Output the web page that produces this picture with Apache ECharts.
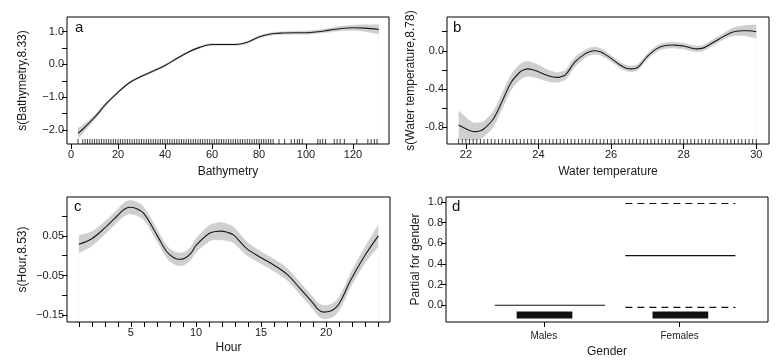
<!DOCTYPE html>
<html>
<head>
<meta charset="utf-8">
<script src="https://cdn.jsdelivr.net/npm/echarts@6/dist/echarts.min.js"></script>
<style>html,body{margin:0;padding:0;background:#fff;}#chart{width:780px;height:364px;}</style>
</head>
<body>
<div id="chart"></div>
<script>
// ---------- Panel a: Bathymetry ----------
const bathyX   = [3, 5, 10, 15, 20, 25, 30, 35, 40, 45, 50, 55, 60, 65, 70, 75, 80, 85, 90, 95, 100, 105, 110, 115, 120, 125, 131];
const bathyFit = [-2.10, -1.98, -1.62, -1.20, -0.85, -0.55, -0.36, -0.20, -0.03, 0.18, 0.38, 0.53, 0.61, 0.61, 0.61, 0.68, 0.84, 0.93, 0.96, 0.97, 0.97, 1.00, 1.05, 1.10, 1.12, 1.11, 1.07];
const bathySe  = [0.15, 0.12, 0.07, 0.05, 0.04, 0.03, 0.03, 0.03, 0.03, 0.03, 0.03, 0.03, 0.03, 0.03, 0.03, 0.03, 0.035, 0.04, 0.04, 0.045, 0.05, 0.05, 0.06, 0.07, 0.08, 0.10, 0.14];
const bathyRug = [3, 5, 6, 7, 8, 9, 10, 11, 12, 13, 14, 15, 16, 17, 18, 19, 20, 21, 22, 23, 24, 25, 26, 27, 28, 29, 30,
  31, 32, 33, 34, 35, 36, 37, 38, 39, 40, 41, 42, 43, 44, 45, 46, 47, 48, 49, 50, 51, 52, 53, 54, 55, 56, 57, 58, 59, 60,
  61, 62, 63, 64, 65, 66, 67, 68, 69, 70, 71, 72, 73, 74, 75, 76, 77, 78, 79, 80, 81, 82, 83, 84, 85, 86,
  88.5, 90.9, 93.7, 95.1, 96.3, 97.2, 98.4, 105, 106, 107.1, 108.3, 112, 113.2, 114.5, 116.3, 121.6, 126.3, 127.7, 129.1, 130.2];
const bathyXTicks = [0, 20, 40, 60, 80, 100, 120];
const bathyYTicks = [-2.0, -1.5, -1.0, -0.5, 0.0, 0.5, 1.0];
const bathyYLabels = [-2.0, -1.0, 0.0, 1.0];

// ---------- Panel b: Water temperature ----------
const tempX   = [21.8, 22.0, 22.12, 22.25, 22.4, 22.5, 22.75, 23.0, 23.25, 23.5, 23.6, 23.7, 23.85, 24.0, 24.25, 24.4, 24.5, 24.6, 24.75, 25.0, 25.25, 25.4, 25.55, 25.7, 25.8, 26.0, 26.25, 26.4, 26.55, 26.7, 26.8, 27.0, 27.25, 27.5, 27.7, 27.85, 28.0, 28.2, 28.35, 28.5, 28.6, 29.0, 29.3, 29.45, 29.6, 29.8, 30.0];
const tempFit = [-0.78, -0.82, -0.84, -0.85, -0.84, -0.82, -0.72, -0.53, -0.33, -0.22, -0.20, -0.19, -0.20, -0.22, -0.26, -0.275, -0.28, -0.275, -0.25, -0.12, -0.04, -0.01, 0.00, -0.01, -0.03, -0.08, -0.15, -0.18, -0.19, -0.18, -0.15, -0.06, 0.02, 0.055, 0.06, 0.055, 0.05, 0.03, 0.02, 0.025, 0.04, 0.13, 0.19, 0.205, 0.21, 0.21, 0.20];
const tempSe  = [0.15, 0.12, 0.10, 0.09, 0.085, 0.08, 0.08, 0.08, 0.08, 0.08, 0.08, 0.08, 0.075, 0.07, 0.06, 0.055, 0.05, 0.05, 0.05, 0.05, 0.04, 0.04, 0.04, 0.035, 0.035,
  0.03, 0.03, 0.03, 0.03, 0.03, 0.03, 0.03, 0.03, 0.03, 0.03, 0.03, 0.03, 0.03, 0.03, 0.03, 0.03, 0.03, 0.04, 0.045, 0.05, 0.06, 0.07];
const tempRug = [21.8, 21.9, 22.0, 22.1, 22.2, 22.3, 22.4, 22.5, 22.6, 22.7, 22.8, 22.9, 23.0, 23.1, 23.2, 23.3, 23.4, 23.5, 23.6, 23.7, 23.8, 23.9,
  24.0, 24.1, 24.2, 24.3, 24.4, 24.5, 24.6, 24.7, 24.8, 24.9, 25.0, 25.1, 25.2, 25.3, 25.4, 25.5, 25.6, 25.7, 25.8, 25.9,
  26.0, 26.1, 26.2, 26.3, 26.4, 26.5, 26.6, 26.7, 26.8, 26.9, 27.0, 27.1, 27.2, 27.3, 27.4, 27.5, 27.6, 27.7, 27.8, 27.9,
  28.0, 28.1, 28.2, 28.3, 28.4, 28.5, 28.6, 28.7, 28.8, 28.9, 29.0, 29.1, 29.2, 29.3, 29.4, 29.5, 29.6, 29.7, 29.8, 29.9, 30.0];
const tempXTicks = [22, 24, 26, 28, 30];
const tempYTicks = [-0.8, -0.6, -0.4, -0.2, 0.0, 0.2];
const tempYLabels = [-0.8, -0.4, 0.0];

// ---------- Panel c: Hour ----------
const hourX   = [1, 2, 3, 4, 4.5, 4.9, 5.4, 6, 7, 7.75, 8.3, 8.7, 9.1, 9.6, 10, 11, 11.5, 11.9, 12.4, 12.9, 13.9, 15, 16, 17, 18, 19, 19.4, 19.8, 20.3, 20.8, 21.3, 21.8, 22.9, 24];
const hourFit = [0.029, 0.043, 0.070, 0.102, 0.117, 0.122, 0.119, 0.106, 0.052, 0.010, -0.005, -0.009, -0.007, 0.006, 0.026, 0.056, 0.061, 0.062, 0.059, 0.052, 0.018, -0.005, -0.024, -0.047, -0.083, -0.120, -0.136, -0.142, -0.140, -0.129, -0.102, -0.066, -0.003, 0.050];
const hourSe  = [0.022, 0.018, 0.016, 0.016, 0.017, 0.017, 0.017, 0.016, 0.015, 0.015, 0.016, 0.016, 0.016, 0.016, 0.017, 0.020, 0.021, 0.022, 0.021, 0.020, 0.017, 0.015, 0.015, 0.015, 0.015, 0.015, 0.016, 0.017, 0.017, 0.017, 0.017, 0.017, 0.020, 0.027];
const hourXTicks = [1, 2, 3, 4, 5, 6, 7, 8, 9, 10, 11, 12, 13, 14, 15, 16, 17, 18, 19, 20, 21, 22, 23, 24];
const hourXLabels = [5, 10, 15, 20];
const hourYTicks = [-0.15, -0.10, -0.05, 0.00, 0.05, 0.10];
const hourYLabels = [-0.15, -0.05, 0.05];

// ---------- Panel d: Gender ----------
const genderCats = ['Males', 'Females'];
const genderPos = [1, 2];
const genderFit = [0.0, 0.48];
const genderUpper = [null, 0.985];
const genderLower = [null, -0.02];
const genderSpan = [[0.64, 1.45], [1.60, 2.41]];
const genderRugSpan = [[0.80, 1.21], [1.80, 2.21]];
const genderRugY = -0.095;
const genderYTicks = [0.0, 0.2, 0.4, 0.6, 0.8, 1.0];

// ---------- build ----------
const FONT = "'Liberation Sans',Arial,sans-serif";
const TXT = '#1a1a1a';
const BAND = '#cfcfcf';
const minus = s => s.replace('-', '\u2212');

const grids = [
  {left: 67, top: 17, width: 322, height: 127},
  {left: 447, top: 17, width: 322, height: 127},
  {left: 67, top: 197, width: 323, height: 125},
  {left: 446, top: 197, width: 322, height: 125}
].map(g => Object.assign({show: true, z: 10, borderColor: '#000', borderWidth: 1, backgroundColor: 'transparent'}, g));

function xAx(gi, min, max, ticks, labels, fmt, name, nameGap) {
  return {
    type: 'value', gridIndex: gi, min: min, max: max,
    axisLine: {show: false, onZero: false}, splitLine: {show: false},
    axisTick: {show: true, inside: false, length: 5, lineStyle: {color: '#000', width: 1}, customValues: ticks},
    axisLabel: {customValues: labels, formatter: fmt, color: TXT, fontFamily: FONT, fontSize: 11, margin: 5},
    name: name, nameLocation: 'middle', nameGap: nameGap,
    nameTextStyle: {color: TXT, fontFamily: FONT, fontSize: 12}
  };
}
function yAx(gi, min, max, ticks, labels, fmt, name, nameGap) {
  return {
    type: 'value', gridIndex: gi, min: min, max: max,
    axisLine: {show: false, onZero: false}, splitLine: {show: false},
    axisTick: {show: true, inside: false, length: 5, lineStyle: {color: '#000', width: 1}, customValues: ticks},
    axisLabel: {customValues: labels, formatter: fmt, color: TXT, fontFamily: FONT, fontSize: 11, margin: 3},
    name: name, nameLocation: 'middle', nameGap: nameGap, nameRotate: 90,
    nameTextStyle: {color: TXT, fontFamily: FONT, fontSize: 12}
  };
}

const xAxes = [
  xAx(0, -1.7, 135.3, bathyXTicks, bathyXTicks, v => String(v), 'Bathymetry', 22),
  xAx(1, 21.48, 30.35, tempXTicks, tempXTicks, v => String(v), 'Water temperature', 22),
  xAx(2, 0.09, 24.9, hourXTicks, hourXLabels, v => String(v), 'Hour', 20),
  xAx(3, 0.28, 2.65, genderPos, genderPos, v => genderCats[genderPos.indexOf(v)] || '', 'Gender', 24)
];
xAxes[3].axisLabel.fontSize = 10;
xAxes[3].axisLabel.margin = 9;

const yAxes = [
  yAx(0, -2.43, 1.45, bathyYTicks, bathyYLabels, v => minus(v.toFixed(1)), 's(Bathymetry,8.33)', 38),
  yAx(1, -0.98, 0.355, tempYTicks, tempYLabels, v => v.toFixed(1), 's(Water temperature,8.78)', 30),
  yAx(2, -0.167, 0.148, hourYTicks, hourYLabels, v => minus(v.toFixed(2)), 's(Hour,8.53)', 38),
  yAx(3, -0.162, 1.048, genderYTicks, genderYTicks, v => v.toFixed(1), 'Partial for gender', 24)
];

// band = grey area under the upper bound, covered by a white area under the lower bound
function smoothPanel(idx, xs, fit, se) {
  const upper = xs.map((x, i) => [x, fit[i] + se[i]]);
  const lower = xs.map((x, i) => [x, fit[i] - se[i]]);
  const line = xs.map((x, i) => [x, fit[i]]);
  const base = {type: 'line', xAxisIndex: idx, yAxisIndex: idx, showSymbol: false, symbol: 'none', smooth: 0.35, animation: false, silent: true};
  return [
    Object.assign({}, base, {data: upper, lineStyle: {color: BAND, width: 0.5}, areaStyle: {color: BAND, opacity: 1, origin: 'start'}, z: 1}),
    Object.assign({}, base, {data: lower, lineStyle: {color: BAND, width: 0.5}, areaStyle: {color: '#fff', opacity: 1, origin: 'start'}, z: 2}),
    Object.assign({}, base, {data: line, lineStyle: {color: '#1a1a1a', width: 1.1}, z: 3})
  ];
}
function rug(idx, xs, ymin) {
  return {
    type: 'scatter', xAxisIndex: idx, yAxisIndex: idx, silent: true, animation: false,
    symbol: 'rect', symbolSize: [1, 5], symbolOffset: [0, -2.5],
    itemStyle: {color: '#111'}, data: xs.map(x => [x, ymin]), z: 4
  };
}

const series = [].concat(
  smoothPanel(0, bathyX, bathyFit, bathySe), [rug(0, bathyRug, -2.43)],
  smoothPanel(1, tempX, tempFit, tempSe), [rug(1, tempRug, -0.98)],
  smoothPanel(2, hourX, hourFit, hourSe)
);

// panel d lines
genderPos.forEach((p, i) => {
  const sp = genderSpan[i];
  series.push({type: 'line', xAxisIndex: 3, yAxisIndex: 3, symbol: 'none', animation: false, silent: true,
    data: [[sp[0], genderFit[i]], [sp[1], genderFit[i]]], lineStyle: {color: '#111', width: 1.2}});
  if (genderUpper[i] !== null) {
    series.push({type: 'line', xAxisIndex: 3, yAxisIndex: 3, symbol: 'none', animation: false, silent: true,
      data: [[sp[0], genderUpper[i]], [sp[1], genderUpper[i]]], lineStyle: {color: '#111', width: 1.2, type: [7, 5]}});
    series.push({type: 'line', xAxisIndex: 3, yAxisIndex: 3, symbol: 'none', animation: false, silent: true,
      data: [[sp[0], genderLower[i]], [sp[1], genderLower[i]]], lineStyle: {color: '#111', width: 1.2, type: [7, 5]}});
  }
  const rs = genderRugSpan[i];
  series.push({type: 'line', xAxisIndex: 3, yAxisIndex: 3, symbol: 'none', animation: false, silent: true,
    data: [[rs[0], genderRugY], [rs[1], genderRugY]], lineStyle: {color: '#111', width: 7, cap: 'butt'}});
});

const letters = [['a', 75, 20], ['b', 453, 20], ['c', 74, 199], ['d', 452, 199]];
const graphic = letters.map(l => ({
  type: 'text', left: l[1], top: l[2], silent: true, z: 20,
  style: {text: l[0], fill: '#111', font: "15px 'Liberation Sans', Arial, sans-serif"}
}));

const chart = echarts.init(document.getElementById('chart'), null, {renderer: 'canvas'});
chart.setOption({
  animation: false,
  backgroundColor: '#fff',
  grid: grids, xAxis: xAxes, yAxis: yAxes, series: series, graphic: graphic
});
</script>
</body>
</html>
